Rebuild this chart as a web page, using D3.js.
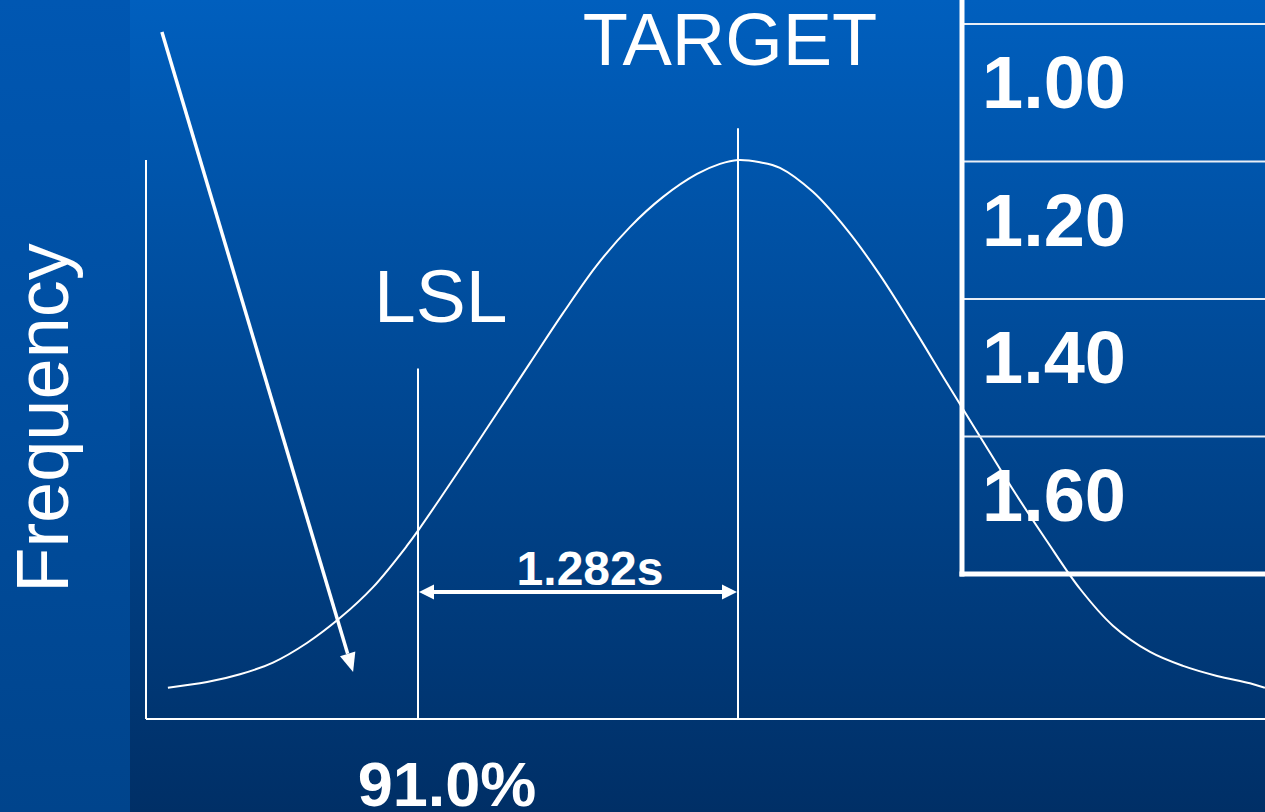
<!DOCTYPE html>
<html>
<head>
<meta charset="utf-8">
<script src="https://cdn.jsdelivr.net/npm/d3@7"></script>
<style>
  html, body { margin: 0; padding: 0; background: #003a7a; }
  svg { display: block; }
  text { font-family: "Liberation Sans", Arial, sans-serif; fill: #ffffff; }
</style>
</head>
<body>
<script>
// Process distribution in sigma units (0 = target) with relative frequency
const curveZ = [-2.284, -2.127, -1.995, -1.863, -1.727, -1.594, -1.462, -1.326, -1.274, -1.194,
  -1.074, -0.966, -0.833, -0.701, -0.565, -0.433, -0.300, -0.164, -0.072, 0,
  0.088, 0.168, 0.300, 0.437, 0.569, 0.701, 0.837, 0.970, 1.102, 1.238, 1.370,
  1.502, 1.651, 1.783, 1.919, 2.051, 2.111];
const curveFreq = [0.056, 0.066, 0.080, 0.101, 0.136, 0.181, 0.236, 0.310, 0.342, 0.394,
  0.474, 0.547, 0.637, 0.726, 0.812, 0.880, 0.934, 0.975, 0.993, 1.000,
  0.996, 0.986, 0.943, 0.875, 0.794, 0.701, 0.601, 0.505, 0.410, 0.318, 0.233,
  0.167, 0.120, 0.095, 0.077, 0.064, 0.056];

// Specification markers
const lslZ = -1.282;
const targetZ = 0;
const specLabels = ["LSL", "TARGET"];
const distanceLabel = "1.282s";
const yieldLabel = "91.0%";
const axisTitle = "Frequency";

// Capability values listed in the side table
const cpkValues = ["1.00", "1.20", "1.40", "1.60"];

const W = 1265, H = 812;
const svg = d3.select("body").append("svg").attr("width", W).attr("height", H);

// Background gradients
const defs = svg.append("defs");
const gMain = defs.append("linearGradient").attr("id", "bgMain").attr("x1", 0).attr("x2", 0).attr("y1", 0).attr("y2", 1);
gMain.append("stop").attr("offset", "0%").attr("stop-color", "#005fbe");
gMain.append("stop").attr("offset", "100%").attr("stop-color", "#002f66");
const gSide = defs.append("linearGradient").attr("id", "bgSide").attr("x1", 0).attr("x2", 0).attr("y1", 0).attr("y2", 1);
gSide.append("stop").attr("offset", "0%").attr("stop-color", "#0057b2");
gSide.append("stop").attr("offset", "100%").attr("stop-color", "#00448c");

svg.append("rect").attr("x", 0).attr("y", 0).attr("width", W).attr("height", H).attr("fill", "url(#bgMain)");
svg.append("rect").attr("x", 0).attr("y", 0).attr("width", 130).attr("height", H).attr("fill", "url(#bgSide)");

// Scales
const x = d3.scaleLinear().domain([lslZ, targetZ]).range([418, 738]);
const y = d3.scaleLinear().domain([0, 1]).range([719, 160]);

// Axes (plain lines, no ticks)
const axes = svg.append("g").attr("stroke", "#ffffff").attr("stroke-width", 2).attr("fill", "none");
axes.append("line").attr("x1", 146).attr("x2", 146).attr("y1", y(1)).attr("y2", y(0));
axes.append("line").attr("x1", 146).attr("x2", W).attr("y1", y(0)).attr("y2", y(0));

// Specification lines
axes.append("line").attr("x1", x(lslZ)).attr("x2", x(lslZ)).attr("y1", y(0.627)).attr("y2", y(0));
axes.append("line").attr("x1", x(targetZ)).attr("x2", x(targetZ)).attr("y1", y(1.057)).attr("y2", y(0));

// Distribution curve
const pts = curveZ.map((z, i) => [z, curveFreq[i]]);
const line = d3.line().x(d => x(d[0])).y(d => y(d[1])).curve(d3.curveCatmullRom.alpha(0.5));
svg.append("path").datum(pts).attr("d", line)
  .attr("fill", "none").attr("stroke", "#ffffff").attr("stroke-width", 2);

// Arrow helper: shaft end point and filled head
function arrowHead(p0, p1, len, half) {
  const dx = p1[0] - p0[0], dy = p1[1] - p0[1];
  const L = Math.hypot(dx, dy), ux = dx / L, uy = dy / L;
  const bx = p1[0] - ux * len, by = p1[1] - uy * len;
  return { base: [bx, by], poly: [[p1[0], p1[1]], [bx - uy * half, by + ux * half], [bx + uy * half, by - ux * half]] };
}

// Long pointer arrow into the lower tail
const arrStart = [x(-2.308), y(1.229)];
const arrEnd = [x(-1.542), y(0.084)];
const h1 = arrowHead(arrStart, arrEnd, 19, 8);
svg.append("line").attr("x1", arrStart[0]).attr("y1", arrStart[1]).attr("x2", h1.base[0]).attr("y2", h1.base[1])
  .attr("stroke", "#ffffff").attr("stroke-width", 3.5);
svg.append("polygon").attr("points", h1.poly.map(p => p.join(",")).join(" ")).attr("fill", "#ffffff");

// Double arrow between LSL and target
const dY = y(0.227);
const dA = [x(lslZ) + 1, dY], dB = [x(targetZ) - 1, dY];
const hL = arrowHead(dB, dA, 15, 7.5);
const hR = arrowHead(dA, dB, 15, 7.5);
svg.append("line").attr("x1", hL.base[0]).attr("y1", dY).attr("x2", hR.base[0]).attr("y2", dY)
  .attr("stroke", "#ffffff").attr("stroke-width", 4);
[hL, hR].forEach(h => svg.append("polygon").attr("points", h.poly.map(p => p.join(",")).join(" ")).attr("fill", "#ffffff"));

svg.append("text").attr("x", 590).attr("y", 585)
  .attr("text-anchor", "middle").attr("font-weight", "bold").attr("font-size", 48).text(distanceLabel);

// Labels
svg.append("text").attr("x", 374).attr("y", 322).attr("font-size", 75).text(specLabels[0]);
svg.append("text").attr("x", 730).attr("y", 65).attr("text-anchor", "middle").attr("font-size", 74).text(specLabels[1]);
svg.append("text").attr("x", 447).attr("y", 806).attr("text-anchor", "middle").attr("font-weight", "bold").attr("font-size", 63).text(yieldLabel);
svg.append("text").attr("transform", "translate(68,418) rotate(-90)").attr("text-anchor", "middle").attr("font-size", 74).text(axisTitle);

// Side table of capability values
const rows = d3.scaleBand().domain(cpkValues).range([24, 574]).padding(0);
const tbl = svg.append("g");
tbl.selectAll("line.row").data(cpkValues).join("line").attr("class", "row")
  .attr("x1", 962).attr("x2", W).attr("y1", d => rows(d)).attr("y2", d => rows(d))
  .attr("stroke", "#e8eef6").attr("stroke-width", 2);
tbl.append("line").attr("x1", 962).attr("x2", 962).attr("y1", 0).attr("y2", rows.range()[1] + 2.5)
  .attr("stroke", "#ffffff").attr("stroke-width", 5);
tbl.append("line").attr("x1", 959.5).attr("x2", W).attr("y1", rows.range()[1]).attr("y2", rows.range()[1])
  .attr("stroke", "#ffffff").attr("stroke-width", 5);
tbl.selectAll("text").data(cpkValues).join("text")
  .attr("x", 982).attr("y", d => rows(d) + 84)
  .attr("font-weight", "bold").attr("font-size", 74).text(d => d);
</script>
</body>
</html>
